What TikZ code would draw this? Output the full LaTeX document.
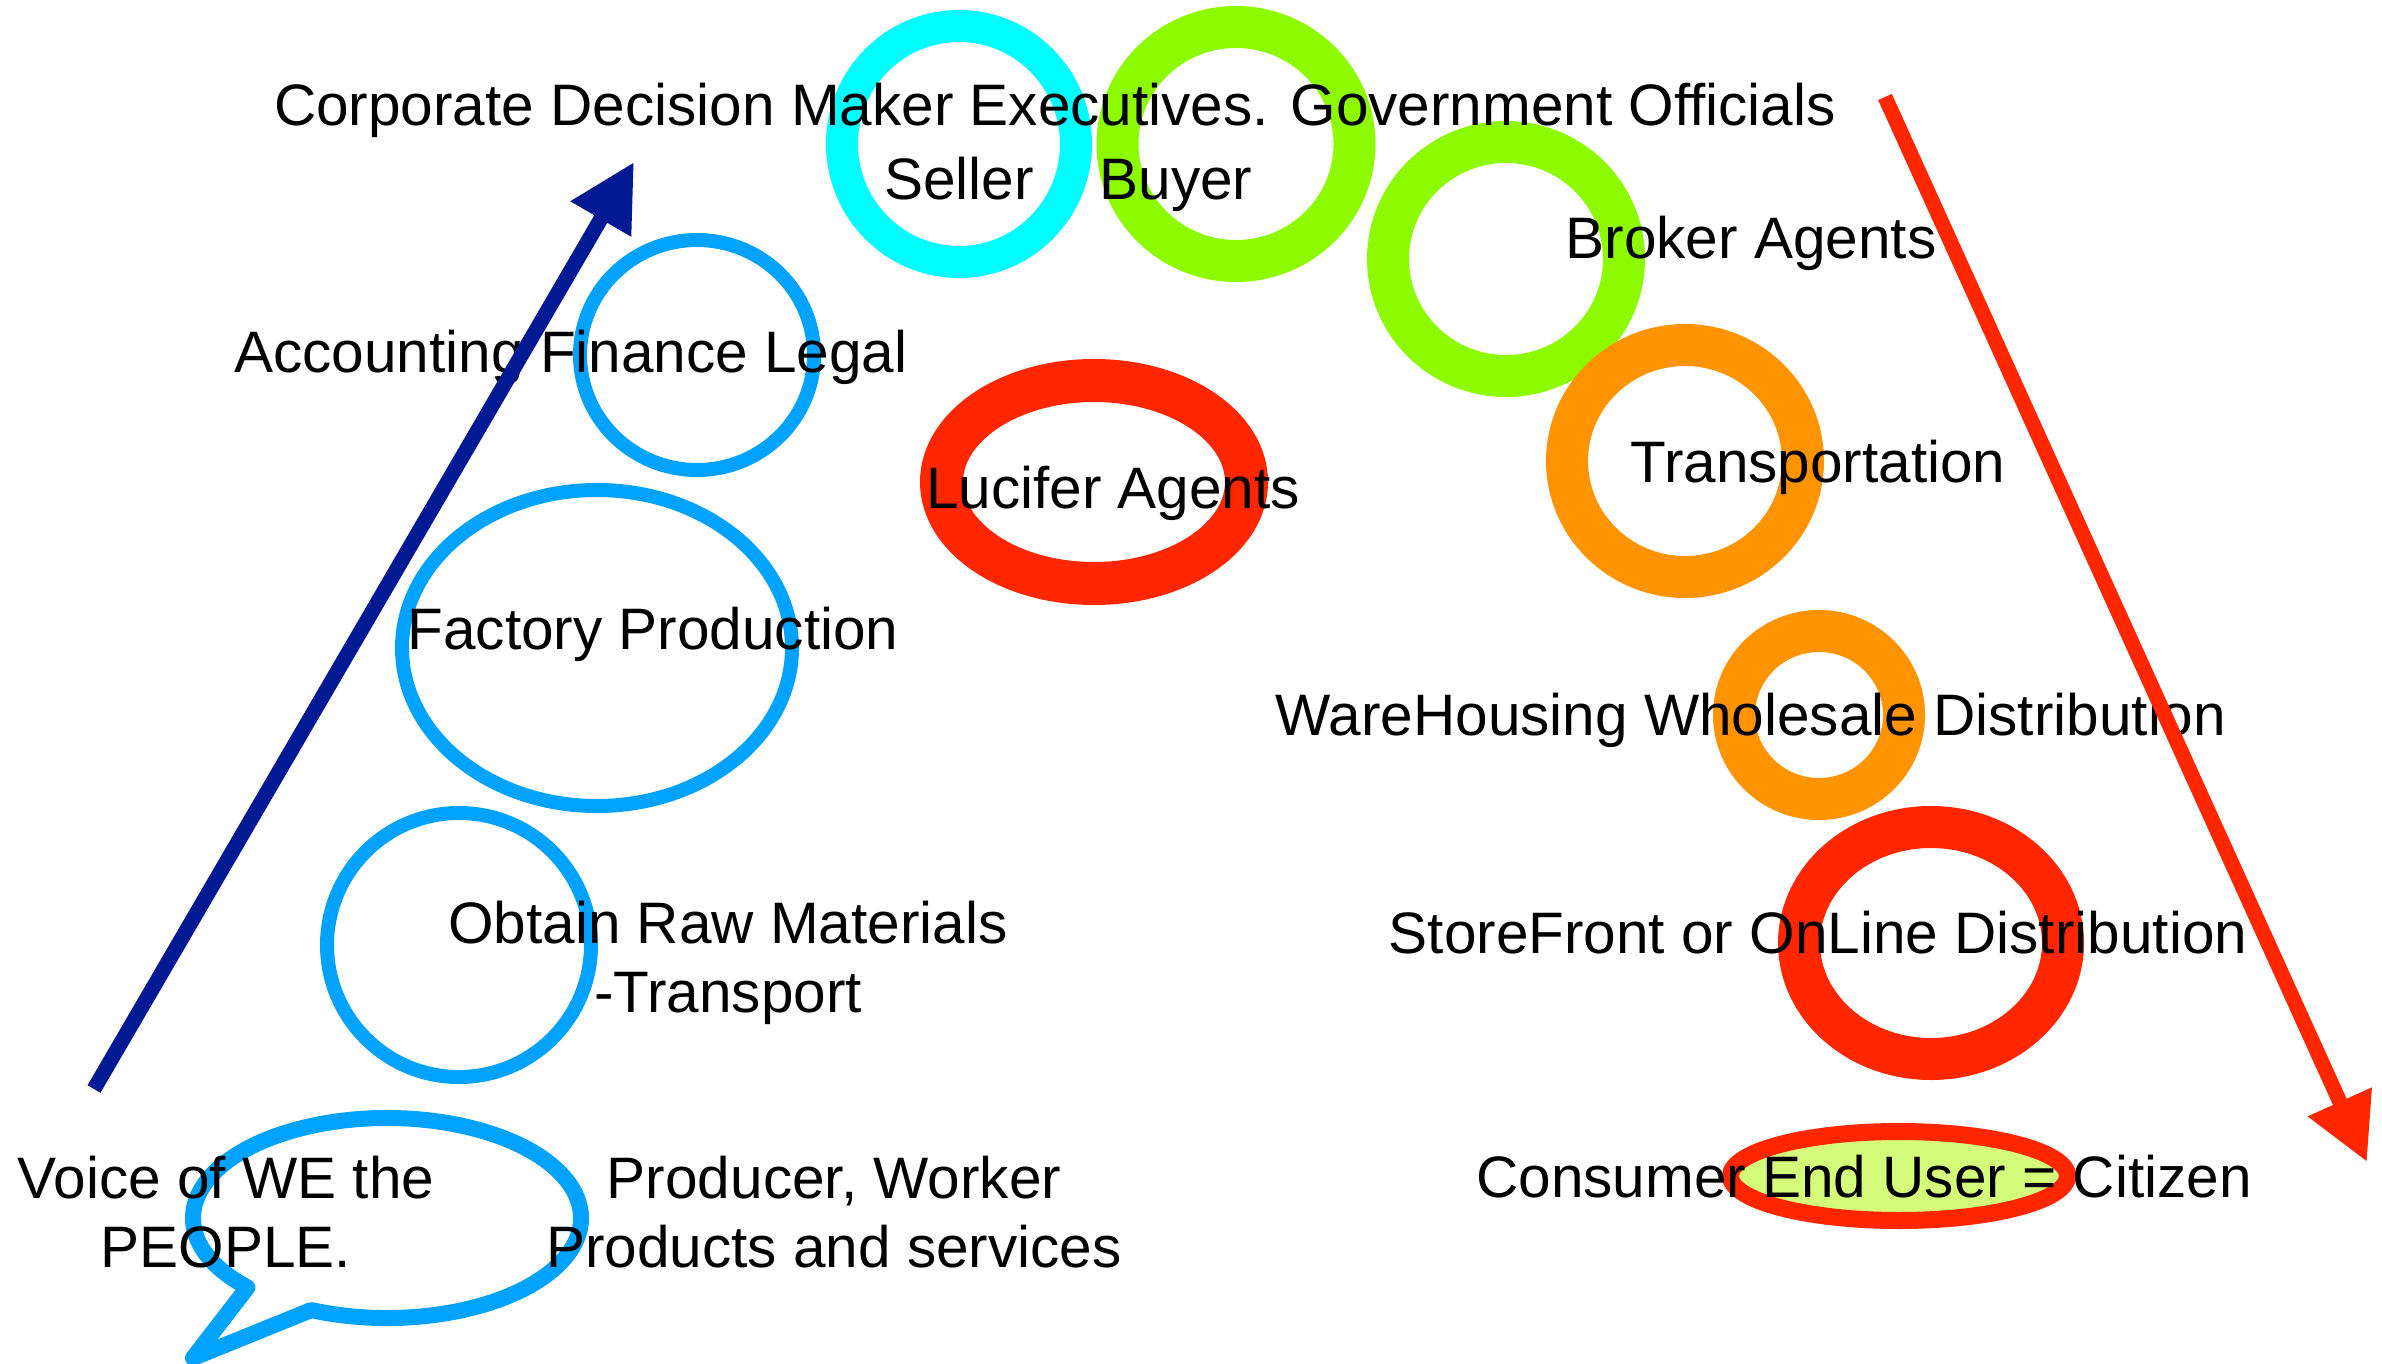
\documentclass[tikz,border=0pt]{standalone}
\usepackage{fontspec}
\setmainfont{Liberation Sans}
\usetikzlibrary{shapes.geometric,arrows.meta,calc}
\definecolor{kcyan}{HTML}{00FDFF}
\definecolor{klime}{HTML}{8EFA00}
\definecolor{kblue}{HTML}{00A2FF}
\definecolor{kred}{HTML}{FF2600}
\definecolor{korange}{HTML}{FF9300}
\definecolor{kfill}{HTML}{D4FB79}
\definecolor{knavy}{HTML}{011993}
\begin{document}
\begin{tikzpicture}[x=1pt,y=-1pt,
  ring/.style={ellipse, draw, inner sep=0pt, outer sep=0pt},
  lbl/.style={font=\fontsize{58.5}{69}\selectfont, inner sep=0pt, outer sep=0pt, anchor=base, align=center, text=black},
  bigarrow/.style={line width=15pt, -{Triangle[length=66pt,width=66pt]}}]
\fill[white] (0,0) rectangle (2382,1364);
\useasboundingbox (0,0) rectangle (2382,1364);

% rings
\node[ring, draw=kcyan, line width=32pt, minimum width=234pt, minimum height=236pt] (sellerring) at (959,144) {};
\node[ring, draw=klime, line width=42pt, minimum width=237pt, minimum height=234pt] (buyerring) at (1236,144) {};
\node[ring, draw=klime, line width=42pt, minimum width=236pt, minimum height=234pt] (brokerring) at (1506,259) {};
\node[ring, draw=kblue, line width=14pt, minimum width=234pt, minimum height=230pt] (acctring) at (697,355) {};
\node[ring, draw=kred, line width=43pt, minimum width=305pt, minimum height=203pt] (luciferring) at (1094,482) {};
\node[ring, draw=korange, line width=42pt, minimum width=236pt, minimum height=232pt] (transring) at (1685,461) {};
\node[ring, draw=kblue, line width=14pt, minimum width=390pt, minimum height=316pt] (factoryring) at (597,648) {};
\node[ring, draw=korange, line width=42pt, minimum width=170pt, minimum height=168pt] (warering) at (1819,715) {};
\node[ring, draw=kblue, line width=14pt, minimum width=264pt, minimum height=264pt] (obtainring) at (459,945) {};
\node[ring, draw=kred, line width=42pt, minimum width=264pt, minimum height=232pt] (storering) at (1931,943) {};
\node[ring, draw=kred, fill=kfill, line width=17pt, minimum width=337pt, minimum height=89pt] (consumerring) at (1899,1176) {};

% speech bubble
\coordinate (bubc) at (387,1218);
\coordinate (bubtip) at (193,1358);
\draw[kblue, line width=16pt, line join=round]
  ($(bubc)+(113:194 and 100)$) arc[start angle=113, end angle=-224, x radius=194, y radius=100]
  -- (bubtip) -- cycle;

% labels
\node[lbl] (corp) at (1055,126) {Corporate Decision Maker Executives. Government Officials};
\node[lbl] (seller) at (959,200) {Seller};
\node[lbl] (buyer) at (1176,200) {Buyer};
\node[lbl] (broker) at (1751,259) {Broker Agents};
\node[lbl] (acct) at (571,372) {Accounting Finance Legal};
\node[lbl] (lucifer) at (1113,508) {Lucifer Agents};
\node[lbl] (trans) at (1818,482) {Transportation};
\node[lbl] (factory) at (653,649) {Factory Production};
\node[lbl] (ware) at (1751,735) {WareHousing Wholesale Distribution};
\node[lbl] (obtain) at (728,1012) {Obtain Raw Materials\\-Transport};
\node[lbl] (store) at (1818,953) {StoreFront or OnLine Distribution};
\node[lbl] (consumer) at (1864,1197) {Consumer End User = Citizen};
\node[lbl] (voice) at (226,1267) {Voice of WE the\\PEOPLE.};
\node[lbl] (producer) at (834,1267) {Producer, Worker\\Products and services};

% arrows
\coordinate (bluestart) at (94,1089);
\coordinate (bluetip) at (634,162);
\draw[knavy, bigarrow] (bluestart) -- (bluetip);
\coordinate (redstart) at (1885,97);
\coordinate (redtip) at (2367,1162);
\draw[kred, bigarrow] (redstart) -- (redtip);
\end{tikzpicture}
\end{document}
